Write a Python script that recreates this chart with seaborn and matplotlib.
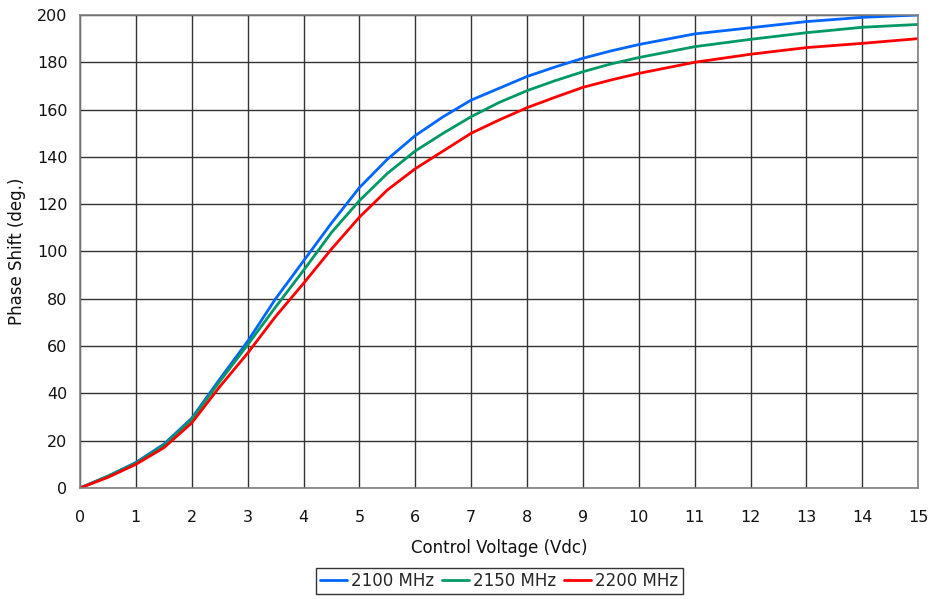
import matplotlib
matplotlib.use("Agg")
import matplotlib.pyplot as plt
import seaborn as sns
import pandas as pd
from matplotlib.lines import Line2D

voltage = [0, 0.5, 1, 1.5, 2, 2.5, 3, 3.5, 4, 4.5, 5, 5.5, 6, 6.5, 7, 7.5, 8, 8.5, 9, 9.5, 10, 11, 12, 13, 14, 15]
phase_2100 = [0, 5, 10.8, 18.5, 29.5, 46, 62, 80, 96, 112, 127, 139, 149, 157, 164, 169, 174, 178, 181.7, 184.8, 187.5, 192, 194.6, 197.2, 199, 200]
phase_2150 = [0, 5, 10.5, 18, 29, 45, 60.5, 76.5, 92, 108, 121.5, 133, 142.5, 150, 157, 163, 168, 172.2, 176, 179.3, 182, 186.6, 189.7, 192.5, 194.8, 196]
phase_2200 = [0, 4.5, 10, 17, 27.5, 42.8, 57, 72.5, 86.5, 101, 114.5, 126, 135, 142.5, 150, 155.6, 160.8, 165.2, 169.4, 172.5, 175.3, 180, 183.4, 186.2, 188, 190]
series_names = ["2100 MHz", "2150 MHz", "2200 MHz"]
colors = ["#0066FF", "#009966", "#FF0000"]
x_ticks = list(range(0, 16))
y_ticks = list(range(0, 201, 20))

frames = []
for name, vals in zip(series_names, [phase_2100, phase_2150, phase_2200]):
    frames.append(pd.DataFrame({"Voltage": voltage, "Phase": vals, "Freq": name}))
df = pd.concat(frames, ignore_index=True)

sns.set_theme(style="white")
plt.rcParams['font.family'] = ['DejaVu Sans']

fig = plt.figure(figsize=(9.33, 5.99), dpi=100)
ax = fig.add_axes([0.0857, 0.1853, 0.8985, 0.7897])

sns.lineplot(data=df, x="Voltage", y="Phase", hue="Freq", palette=colors,
             hue_order=series_names, linewidth=2, ax=ax, legend=False, sort=True)

ax.set_xlim(0, 15)
ax.set_ylim(0, 200)
ax.set_xticks(x_ticks)
ax.set_yticks(y_ticks)
ax.grid(True, color="#333333", linewidth=1)
ax.set_axisbelow(True)
for s in ax.spines.values():
    s.set_color("#808080")
    s.set_linewidth(1.2)
ax.tick_params(axis="both", which="both", direction="out", length=5, width=1,
               color="#333333", labelsize=11.5, labelcolor="#111111")
ax.tick_params(axis="x", pad=11)
ax.tick_params(axis="y", pad=4)
ax.set_xlabel("Control Voltage (Vdc)", fontsize=12, color="#111111", labelpad=10)
ax.set_ylabel("Phase Shift (deg.)", fontsize=12, color="#111111", labelpad=8)

handles = [Line2D([0], [0], color=c, lw=2) for c in colors]
leg = fig.legend(handles, series_names, loc="lower center", bbox_to_anchor=(0.535, -0.006),
                 ncol=3, frameon=True, fancybox=False, fontsize=12, handlelength=1.6,
                 handletextpad=0.25, columnspacing=0.5, borderpad=0.25, edgecolor="black")
leg.get_frame().set_linewidth(1)

fig.savefig("out.png", dpi=100)
